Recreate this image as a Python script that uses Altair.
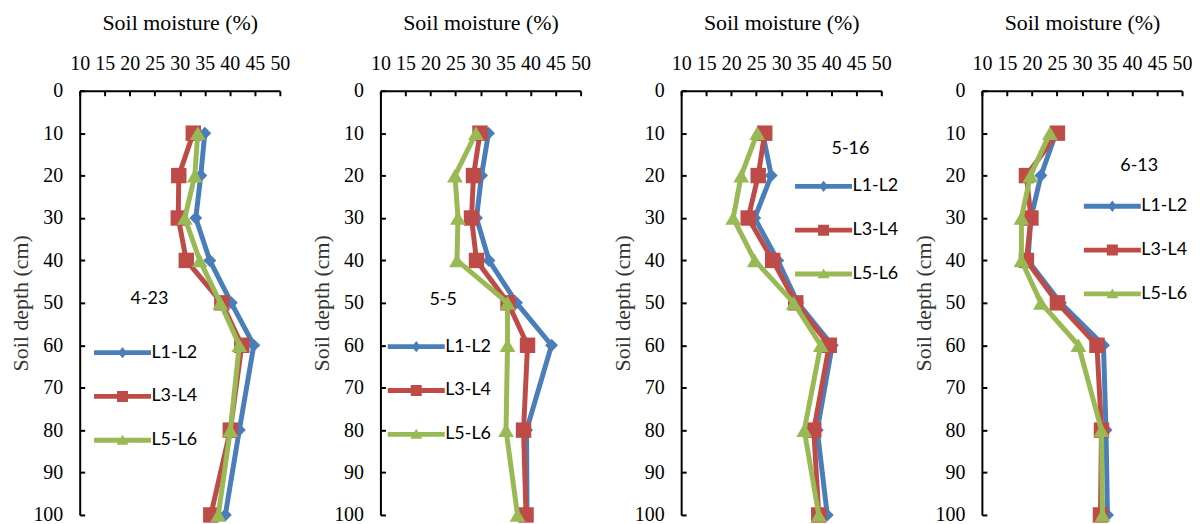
import altair as alt
import pandas as pd

# ---- data ----
depths = [10, 20, 30, 40, 50, 60, 80, 100]
series_names = ["L1-L2", "L3-L4", "L5-L6"]
dates = ["4-23", "5-5", "5-16", "6-13"]

apr23_l1l2 = [35.0, 34.2, 33.2, 36.0, 40.3, 44.8, 41.9, 39.1]
apr23_l3l4 = [32.7, 29.8, 29.7, 31.3, 38.4, 42.4, 40.1, 36.2]
apr23_l5l6 = [33.6, 33.0, 31.0, 34.0, 38.1, 41.9, 40.1, 37.7]

may05_l1l2 = [31.6, 30.2, 29.2, 31.7, 37.2, 44.2, 39.2, 39.3]
may05_l3l4 = [29.9, 28.6, 28.2, 29.2, 35.5, 39.4, 38.6, 39.1]
may05_l5l6 = [29.1, 24.9, 25.5, 25.3, 35.4, 35.4, 35.1, 37.4]

may16_l1l2 = [26.3, 28.0, 24.7, 29.3, 33.3, 40.2, 37.2, 39.2]
may16_l3l4 = [26.7, 25.4, 23.4, 28.3, 32.9, 39.6, 36.5, 37.5]
may16_l5l6 = [25.2, 22.0, 20.4, 24.7, 32.5, 37.9, 34.6, 37.5]

jun13_l1l2 = [24.8, 21.8, 19.8, 19.2, 25.7, 34.3, 34.8, 35.1]
jun13_l3l4 = [25.1, 18.9, 19.8, 18.9, 25.1, 33.0, 33.9, 33.7]
jun13_l5l6 = [23.6, 19.7, 17.9, 17.9, 21.8, 29.3, 33.9, 34.1]

panel_values = [
    [apr23_l1l2, apr23_l3l4, apr23_l5l6],
    [may05_l1l2, may05_l3l4, may05_l5l6],
    [may16_l1l2, may16_l3l4, may16_l5l6],
    [jun13_l1l2, jun13_l3l4, jun13_l5l6],
]

x_ticks = [10, 15, 20, 25, 30, 35, 40, 45, 50]
y_ticks = [0, 10, 20, 30, 40, 50, 60, 70, 80, 90, 100]

# ---- styling ----
colors = ["#4A7EBB", "#BE4B48", "#98B954"]
marker_shapes = ["diamond", "square", "triangle-up"]
marker_sizes = [170, 240, 250]
bar = "M-1.3,-0.11L1.3,-0.11L1.3,0.11L-1.3,0.11Z "
legend_paths = [
    bar + "M0,-0.26L0.2,0L0,0.26L-0.2,0Z",
    bar + "M-0.25,-0.25L0.25,-0.25L0.25,0.25L-0.25,0.25Z",
    bar + "M0,-0.25L0.27,0.2L-0.27,0.2Z",
]
# legend placement per panel: (legendX, legendY, titlePadding)
legend_places = [(21, 200, 23), (14, 201, 16), (121, 50, 6), (109, 67, 9)]

serif = "Liberation Serif"
sans = "Lato"

x_scale = alt.Scale(domain=[10, 50], nice=False, zero=False)
y_scale = alt.Scale(domain=[0, 100], nice=False, reverse=True)
color_scale = alt.Scale(domain=series_names, range=colors)
shape_scale = alt.Scale(domain=series_names, range=legend_paths)

# labelled axes: ticks pointing into the plot (axis moved inwards by its tick length)
tick_axis = dict(
    domain=False, ticks=True, tickColor="black", tickWidth=2, tickSize=5, offset=-5,
    labelFont=serif, labelFontSize=20, labelColor="black",
    titleFont=serif, titleFontSize=22, titleFontWeight="normal",
    labelFlush=False, labelOverlap=False, grid=False,
)
x_axis = alt.Axis(orient="top", values=x_ticks, title="Soil moisture (%)",
                  labelPadding=17, titlePadding=20, titleColor="black", **tick_axis)
y_axis = alt.Axis(orient="left", values=y_ticks, title="Soil depth (cm)",
                  labelPadding=17, titlePadding=0, titleColor="#333333", **tick_axis)
# axis lines only
line_axis = dict(domain=True, domainColor="black", domainWidth=2, ticks=False,
                 labels=False, title=None, grid=False, offset=0)
x_line = alt.Axis(orient="top", **line_axis)
y_line = alt.Axis(orient="left", **line_axis)


def panel(date, values, place):
    rows = []
    for s, vals in zip(series_names, values):
        for d, v in zip(depths, vals):
            rows.append({"series": s, "depth": d, "moisture": v})
    df = pd.DataFrame(rows)
    base = alt.Chart(df)
    layers = []
    first = True
    for s, c, shp, sz in zip(series_names, colors, marker_shapes, marker_sizes):
        sub = base.transform_filter(alt.datum.series == s)
        xa = x_axis if first else None
        ya = y_axis if first else None
        first = False
        layers.append(sub.mark_line(color=c, strokeWidth=5, strokeJoin="round", strokeCap="round").encode(
            x=alt.X("moisture:Q", scale=x_scale, axis=xa),
            y=alt.Y("depth:Q", scale=y_scale, axis=ya),
            order=alt.Order("depth:Q")))
        layers.append(sub.mark_point(color=c, shape=shp, size=sz, filled=True, opacity=1).encode(
            x=alt.X("moisture:Q", scale=x_scale, axis=None),
            y=alt.Y("depth:Q", scale=y_scale, axis=None)))
    lx, ly, tp = place
    leg = alt.Legend(title=date, orient="none", legendX=lx, legendY=ly, direction="vertical",
                     symbolSize=1936, symbolStrokeWidth=0, symbolOpacity=1,
                     labelFont=sans, labelFontSize=18, labelColor="black", labelOffset=7,
                     titleFont=sans, titleFontSize=18, titleFontWeight="normal", titleColor="black",
                     titleAnchor="middle", titlePadding=tp, rowPadding=13, padding=0)
    # legend layer: zero-size marks; draws the axis lines and the line+marker legend
    layers.append(base.mark_point(filled=True, opacity=1, size=0).encode(
        x=alt.X("moisture:Q", scale=x_scale, axis=x_line),
        y=alt.Y("depth:Q", scale=y_scale, axis=y_line),
        color=alt.Color("series:N", scale=color_scale, legend=leg),
        shape=alt.Shape("series:N", scale=shape_scale, legend=leg)))
    return alt.layer(*layers).resolve_axis(x="independent", y="independent").properties(
        width=201, height=426)


panels = [panel(d, v, p) for d, v, p in zip(dates, panel_values, legend_places)]

chart = alt.hconcat(*panels, spacing=101, bounds="flush").resolve_scale(
    x="independent", y="independent", color="independent", shape="independent"
).resolve_legend(color="independent", shape="independent").properties(
    padding={"left": 2, "top": 2, "right": 0, "bottom": 0}
).configure_view(stroke=None)

chart.save("out.html", embed_options={"renderer": "svg", "actions": False})
